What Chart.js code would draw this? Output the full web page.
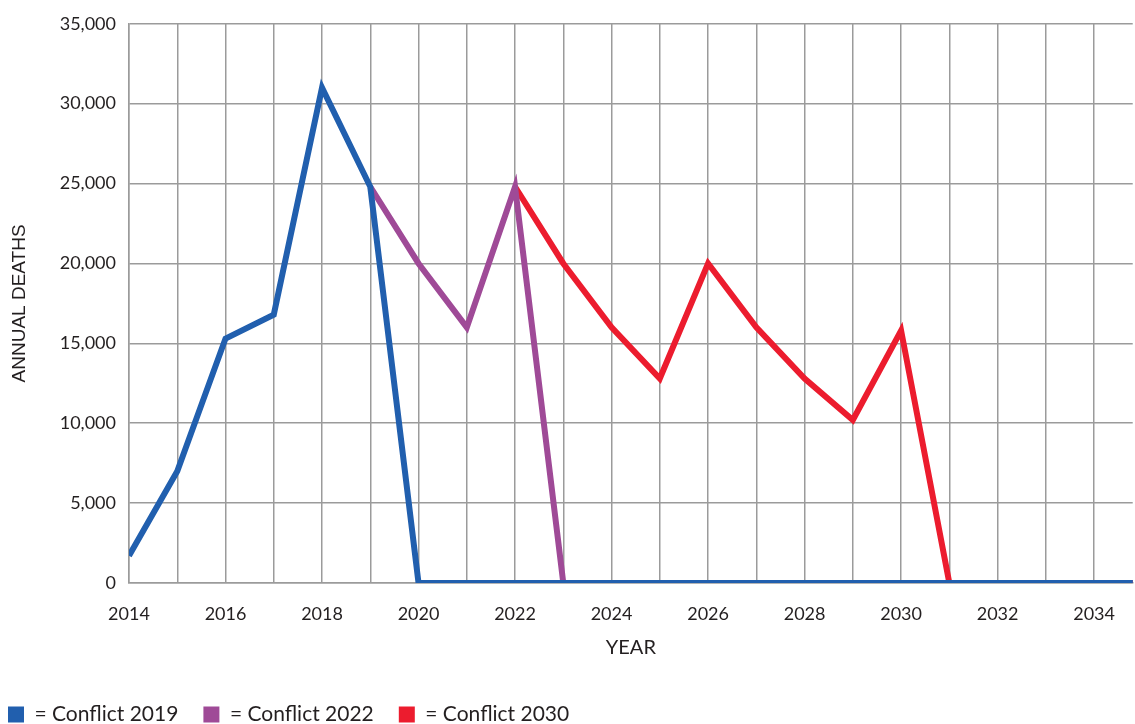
<!DOCTYPE html>
<html>
<head>
<meta charset="utf-8">
<script src="https://cdn.jsdelivr.net/npm/chart.js@4"></script>
<style>
  html, body { margin: 0; padding: 0; background: #fff; }
  #wrap { width: 1135px; height: 724px; }
</style>
</head>
<body>
<div id="wrap"><canvas id="deathsChart" width="1135" height="724"></canvas></div>
<script>
// years on the x axis
const years = [2014, 2015, 2016, 2017, 2018, 2019, 2020, 2021, 2022, 2023, 2024,
  2025, 2026, 2027, 2028, 2029, 2030, 2031, 2032, 2033, 2034, 2035];

const seriesNames = ["Conflict 2019", "Conflict 2022", "Conflict 2030"];

const conflict2019 = [1700, 7000, 15300, 16800, 31000, 24800, 0, 0, 0, 0, 0,
  0, 0, 0, 0, 0, 0, 0, 0, 0, 0, 0];
const conflict2022 = [null, null, null, null, null, 24800, 20000, 16000, 24800, 0, 0,
  0, 0, 0, 0, 0, 0, 0, 0, 0, 0, 0];
const conflict2030 = [null, null, null, null, null, null, null, null, 24800, 20000, 16000,
  12800, 20000, 16000, 12800, 10200, 15800, 0, 0, 0, 0, 0];

const yTicks = [0, 5000, 10000, 15000, 20000, 25000, 30000, 35000];

const colors = ["#215fae", "#9f4a97", "#ec1c2e"];
const gridColor = "#9b9b9b";
const textColor = "#231f20";
const fontFamily = "Lato, 'Open Sans', sans-serif";

// push the legend row to the bottom-left corner
const legendNudge = {
  id: "legendNudge",
  afterLayout(chart) {
    const lg = chart.legend;
    if (!lg) return;
    lg.top += 11;
    lg.bottom += 11;
    lg.left -= 17;
    lg.right -= 17;
  },
};

const ctx = document.getElementById("deathsChart");

new Chart(ctx.getContext("2d"), {
  type: "line",
  data: {
    labels: years,
    datasets: [conflict2019, conflict2022, conflict2030].map((vals, i) => ({
      label: seriesNames[i],
      data: vals,
      borderColor: colors[i],
      backgroundColor: colors[i],
      borderWidth: 6,
      pointRadius: 0,
      tension: 0,
      borderJoinStyle: "miter",
    })),
  },
  options: {
    responsive: false,
    animation: false,
    layout: { padding: { top: 11, left: 0, right: 0, bottom: 0 } },
    plugins: {
      tooltip: { enabled: false },
      legend: {
        display: true,
        position: "bottom",
        align: "start",
        labels: {
          color: textColor,
          font: { family: fontFamily, size: 21 },
          boxWidth: 16,
          boxHeight: 16,
          padding: 25,
          generateLabels(chart) {
            return chart.data.datasets.map((ds, i) => ({
              text: "= " + ds.label,
              fillStyle: ds.borderColor,
              strokeStyle: ds.borderColor,
              lineWidth: 0,
              datasetIndex: i,
              hidden: false,
              fontColor: textColor,
            }));
          },
        },
      },
    },
    scales: {
      x: {
        type: "linear",
        min: 2014,
        max: 2034.8,
        afterFit(scale) { scale.height = 85; },
        grid: { color: gridColor, lineWidth: 1.5, drawTicks: false },
        border: { color: gridColor, width: 1.5 },
        ticks: {
          stepSize: 1,
          autoSkip: false,
          maxRotation: 0,
          includeBounds: false,
          padding: 20,
          color: textColor,
          font: { family: fontFamily, size: 18 },
          callback: (v) => (v % 2 === 0 ? String(v) : ""),
        },
        title: {
          display: true,
          text: "YEAR",
          color: textColor,
          font: { family: fontFamily, size: 20 },
          padding: { top: 0, bottom: 8 },
        },
      },
      y: {
        min: 0,
        max: 35000,
        afterFit(scale) { scale.width = 129; },
        afterBuildTicks(scale) { scale.ticks = yTicks.map((v) => ({ value: v })); },
        grid: { color: gridColor, lineWidth: 1.5, drawTicks: false },
        border: { color: gridColor, width: 1.5 },
        ticks: {
          padding: 13,
          color: textColor,
          font: { family: fontFamily, size: 18 },
          callback: (v) => v.toLocaleString("en-US"),
        },
        title: {
          display: true,
          text: "ANNUAL DEATHS",
          color: textColor,
          font: { family: "'Liberation Sans', Arial, sans-serif", size: 19 },
          padding: { top: 8, bottom: 0 },
        },
      },
    },
  },
  plugins: [legendNudge],
});
</script>
</body>
</html>
